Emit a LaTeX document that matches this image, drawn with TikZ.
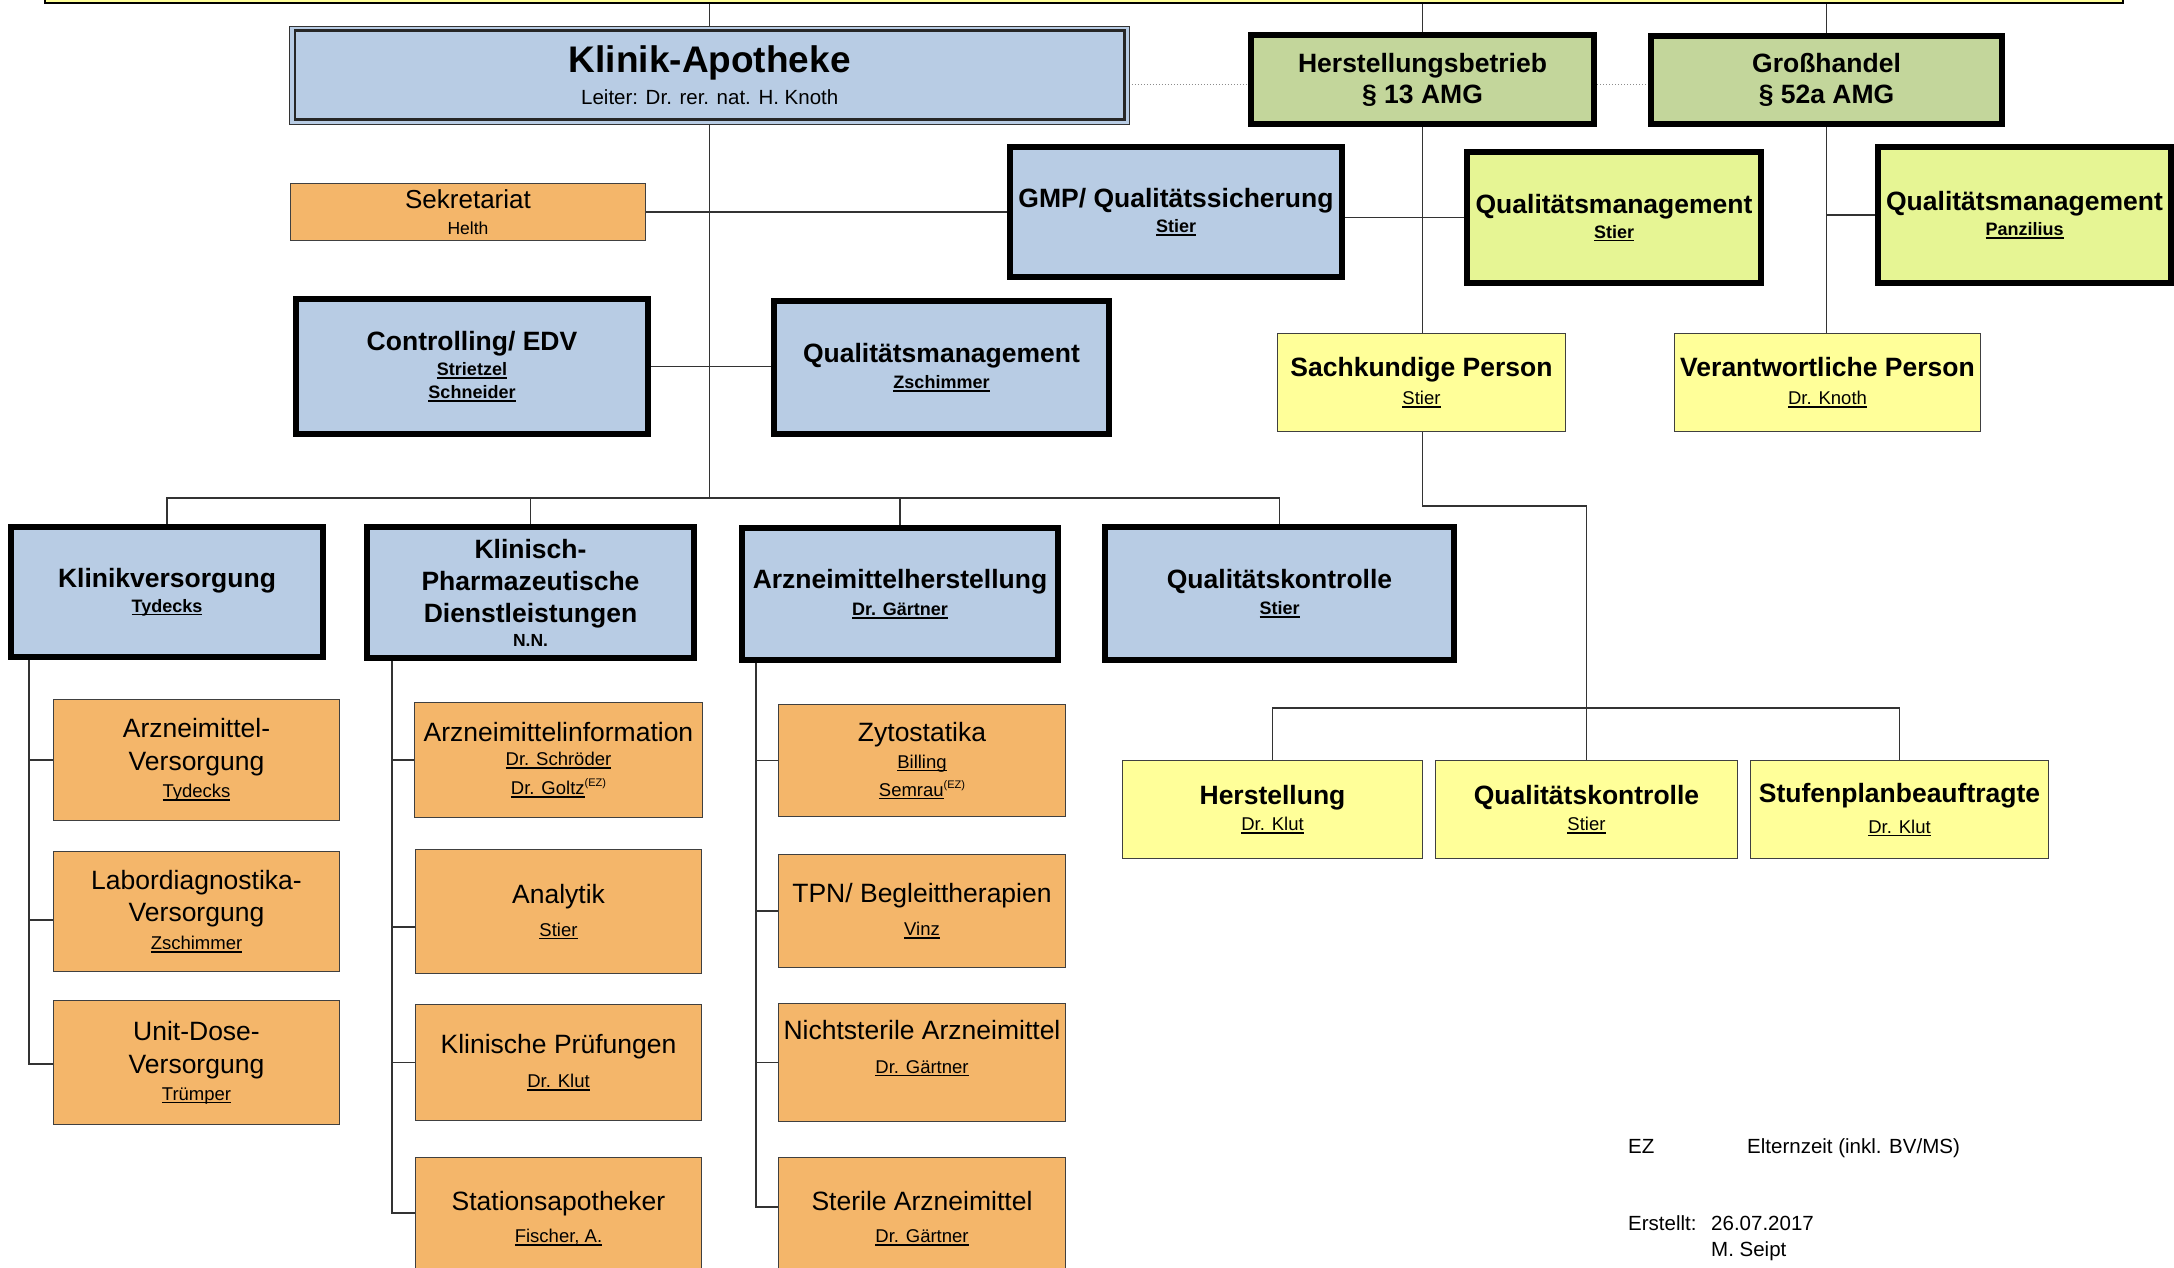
\documentclass[tikz,border=0pt]{standalone}
\usepackage{fontspec}
\setmainfont{Liberation Sans}
\usetikzlibrary{calc}
\pgfdeclarelayer{bg}
\pgfsetlayers{bg,main}
\definecolor{cblue}{HTML}{B8CCE4}
\definecolor{corange}{HTML}{F4B66A}
\definecolor{cgreen}{HTML}{C3D69B}
\definecolor{clime}{HTML}{E6F594}
\definecolor{cyell}{HTML}{FFFF99}
\newcommand\fsz[1]{\fontsize{#1}{24}\selectfont}
\newcommand\ulin[1]{\setbox0=\hbox{#1}\rlap{\rule[-3.2pt]{\wd0}{1.4pt}}\box0}
\newcommand\ezsup{\raisebox{8pt}{\fsz{11}(EZ)}}
\tikzset{
  thickbox/.style={draw=black, line width=6pt, inner sep=0pt, align=center, font=\fsz{18.5}},
  thinbox/.style={draw=black!75, line width=1.3pt, inner sep=0pt, align=center, font=\fsz{18.5}},
  conn/.style={draw=black!80, line width=1.3pt},
  dotline/.style={draw=black!45, line width=1pt, dotted},
  sz/.style 2 args={minimum width=#1pt, minimum height=#2pt},
  legend/.style={anchor=base west, inner sep=0pt, font=\fsz{20.5}},
}
\begin{document}
\begin{tikzpicture}[x=1pt,y=-1pt]
\lineskiplimit=-100pt \lineskip=0pt
\useasboundingbox (0,0) rectangle (2174,1268);
\clip (0,0) rectangle (2174,1268);

% top bar
\node[draw=black, fill=cyell, line width=2.5pt, sz={2078}{22}, inner sep=0pt] (bar) at (1084,-8) {};

% Klinik-Apotheke (double border)
\draw[fill=cblue, draw=black!80, line width=1.2pt] (289.5,26.5) rectangle (1129.5,124.5);
\node[draw=black!85, fill=cblue, line width=2.5pt, inner sep=0pt, align=center, font=\fsz{18.5}, sz={829.5}{89}] (ka) at (709.75,75)
  {{\fsz{37}\bfseries Klinik-Apotheke}\\[8pt]{\fsz{20.5}Leiter: Dr. rer. nat. H. Knoth}};

\node[thinbox, fill=corange, sz={355}{57}] (sek) at (468,212)
  {{\fsz{26}Sekretariat}\\[2pt]{\fsz{17.5}Helth}};
\node[thickbox, fill=cblue, sz={332}{130}] (gmp) at (1176,212)
  {{\fsz{26.5}\bfseries GMP/ Qualitätssicherung}\\[1pt]{\fsz{18}\bfseries\ulin{Stier}}};
\node[thickbox, fill=cblue, sz={352}{135}] (ctrl) at (472,366.5)
  {{\fsz{26.5}\bfseries Controlling/ EDV}\\[1pt]{\fsz{18}\bfseries\ulin{Strietzel}}\\[-1pt]{\fsz{18}\bfseries\ulin{Schneider}}};
\node[thickbox, fill=cblue, sz={335.5}{133}] (qmz) at (941.5,367.5)
  {{\fsz{26.5}\bfseries Qualitätsmanagement}\\[2pt]{\fsz{18}\bfseries\ulin{Zschimmer}}};

\node[thickbox, fill=cgreen, sz={343}{89}] (hb) at (1422.5,79.5)
  {{\fsz{26.5}\bfseries Herstellungsbetrieb}\\[7pt]{\fsz{26.5}\bfseries § 13 AMG}};
\node[thickbox, fill=cgreen, sz={351}{88}] (gh) at (1826.5,80)
  {{\fsz{26.5}\bfseries Großhandel}\\[7pt]{\fsz{26.5}\bfseries § 52a AMG}};
\node[thickbox, fill=clime, sz={294}{131}] (qms) at (1614,217.5)
  {{\fsz{26.5}\bfseries Qualitätsmanagement}\\[1pt]{\fsz{18}\bfseries\ulin{Stier}}};
\node[thickbox, fill=clime, sz={293}{136}] (qmp) at (2024.5,215)
  {{\fsz{26.5}\bfseries Qualitätsmanagement}\\[1pt]{\fsz{18}\bfseries\ulin{Panzilius}}};
\node[thinbox, fill=cyell, sz={288}{98}] (sp) at (1421.5,382.5)
  {{\fsz{26.5}\bfseries Sachkundige Person}\\[4pt]{\fsz{18.5}\ulin{Stier}}};
\node[thinbox, fill=cyell, sz={306}{98}] (vp) at (1827.5,382.5)
  {{\fsz{26.5}\bfseries Verantwortliche Person}\\[4pt]{\fsz{18.5}\ulin{Dr. Knoth}}};

% second level
\node[thickbox, fill=cblue, sz={312}{130}] (kv) at (167,592)
  {{\fsz{26.5}\bfseries Klinikversorgung}\\[1pt]{\fsz{18}\bfseries\ulin{Tydecks}}};
\node[thickbox, fill=cblue, sz={327}{131}] (kpd) at (530.5,592.5)
  {{\fsz{26.5}\bfseries Klinisch-}\\[8pt]{\fsz{26.5}\bfseries Pharmazeutische}\\[8pt]{\fsz{26.5}\bfseries Dienstleistungen}\\[0pt]{\fsz{17.5}\bfseries N.N.}};
\node[thickbox, fill=cblue, sz={316}{132}] (amh) at (900,594)
  {{\fsz{26.5}\bfseries Arzneimittelherstellung}\\[3pt]{\fsz{18}\bfseries\ulin{Dr. Gärtner}}};
\node[thickbox, fill=cblue, sz={349}{133}] (qk) at (1279.5,593.5)
  {{\fsz{26.5}\bfseries Qualitätskontrolle}\\[2pt]{\fsz{18}\bfseries\ulin{Stier}}};

% yellow lower right
\node[thinbox, fill=cyell, sz={300}{98}] (her) at (1272.5,809.5)
  {{\fsz{26.5}\bfseries Herstellung}\\[2pt]{\fsz{18.5}\ulin{Dr. Klut}}};
\node[thinbox, fill=cyell, sz={302}{98}] (qky) at (1586.5,809.5)
  {{\fsz{26.5}\bfseries Qualitätskontrolle}\\[2pt]{\fsz{18.5}\ulin{Stier}}};
\node[thinbox, fill=cyell, sz={298}{98}] (stu) at (1899.5,809.5)
  {{\fsz{26.5}\bfseries Stufenplanbeauftragte}\\[7pt]{\fsz{18.5}\ulin{Dr. Klut}}};

% orange column left
\node[thinbox, fill=corange, sz={286}{121}] (av) at (196.5,760)
  {{\fsz{26.5}Arzneimittel-}\\[9pt]{\fsz{26.5}Versorgung}\\[3pt]{\fsz{18.5}\ulin{Tydecks}}};
\node[thinbox, fill=corange, sz={286}{120}] (lab) at (196.5,911.5)
  {{\fsz{26.5}Labordiagnostika-}\\[8pt]{\fsz{26.5}Versorgung}\\[4pt]{\fsz{18.5}\ulin{Zschimmer}}};
\node[thinbox, fill=corange, sz={286}{124}] (ud) at (196.5,1062.5)
  {{\fsz{26.5}Unit-Dose-}\\[9pt]{\fsz{26.5}Versorgung}\\[3pt]{\fsz{18.5}\ulin{Trümper}}};

% orange column middle
\node[thinbox, fill=corange, sz={288}{115}] (ai) at (558.5,760)
  {{\fsz{26.5}Arzneimittelinformation}\\[0pt]{\fsz{18.5}\ulin{Dr. Schröder}}\\[5pt]{\fsz{18.5}\ulin{Dr. Goltz}\ezsup}};
\node[thinbox, fill=corange, sz={286}{124}] (an) at (558.5,911.5)
  {{\fsz{26.5}Analytik}\\[9pt]{\fsz{18.5}\ulin{Stier}}};
\node[thinbox, fill=corange, sz={286}{116}] (kp) at (558.5,1062.5)
  {{\fsz{26.5}Klinische Prüfungen}\\[10pt]{\fsz{18.5}\ulin{Dr. Klut}}};
\node[thinbox, fill=corange, sz={286}{122}] (sa) at (558.5,1218.5)
  {{\fsz{26.5}Stationsapotheker}\\[8pt]{\fsz{18.5}\ulin{Fischer, A.}}};

% orange column right
\node[thinbox, fill=corange, sz={287}{112}] (zy) at (922,760.5)
  {{\fsz{26.5}Zytostatika}\\[3pt]{\fsz{18.5}\ulin{Billing}}\\[4pt]{\fsz{18.5}\ulin{Semrau}\ezsup}};
\node[thinbox, fill=corange, sz={287}{113}] (tpn) at (922,911)
  {{\fsz{26.5}TPN/ Begleittherapien}\\[9pt]{\fsz{18.5}\ulin{Vinz}}};
\node[thinbox, fill=corange, sz={287}{118}, text depth=32pt] (ns) at (922,1062.5)
  {{\fsz{26.5}Nichtsterile Arzneimittel}\\[10pt]{\fsz{18.5}\ulin{Dr. Gärtner}}};
\node[thinbox, fill=corange, sz={287}{122}] (sta) at (922,1218.5)
  {{\fsz{26.5}Sterile Arzneimittel}\\[8pt]{\fsz{18.5}\ulin{Dr. Gärtner}}};

% legend
\node[legend] (ez) at (1628,1153) {EZ};
\node[legend] (ezt) at (1747,1153) {Elternzeit (inkl. BV/MS)};
\node[legend] (erst) at (1628,1230) {Erstellt:};
\node[legend] (date) at (1711,1230) {26.07.2017};
\node[legend] (auth) at (1711,1256) {M. Seipt};

% connectors
\coordinate (dl) at (0,85);
\coordinate (dist) at (0,498);
\coordinate (bend) at (0,506);
\coordinate (hz) at (0,708);
\coordinate (cL) at (29,0);
\coordinate (cM) at (392,0);
\coordinate (cR) at (756,0);
\begin{pgfonlayer}{bg}
\draw[conn] (bar.south -| ka.north) -- (ka.north);
\draw[conn] (bar.south -| hb.north) -- (hb.north);
\draw[conn] (bar.south -| gh.north) -- (gh.north);
\draw[dotline] (ka.east |- dl) -- (hb.west |- dl);
\draw[dotline] (hb.east |- dl) -- (gh.west |- dl);
\draw[conn] (ka.south) -- (ka.south |- dist);
\draw[conn] (sek.east) -- (gmp.west);
\draw[conn] (ctrl.east) -- (ctrl.east -| qmz.west);
\draw[conn] (qms.west) -- (qms.west -| gmp.east);
\draw[conn] (hb.south) -- (hb.south |- bend) -| (qky.north);
\draw[conn] (gh.south) -- (gh.south |- vp.north);
\draw[conn] (qmp.west) -- (qmp.west -| gh.south);
\draw[conn] (kv.north) -- (kv.north |- dist) -- (qk.north |- dist) -- (qk.north);
\draw[conn] (kpd.north) -- (kpd.north |- dist);
\draw[conn] (amh.north) -- (amh.north |- dist);
\draw[conn] (her.north) -- (her.north |- hz) -- (stu.north |- hz) -- (stu.north);
% left column
\draw[conn] (kv.south -| cL) -- ([yshift=-1.5pt]ud.west -| cL) -- ([yshift=-1.5pt]ud.west);
\draw[conn] (av.west -| cL) -- (av.west);
\draw[conn] ([yshift=-8.5pt]lab.west -| cL) -- ([yshift=-8.5pt]lab.west);
% middle column
\draw[conn] (kpd.south -| cM) -- ([yshift=5.5pt]sa.west -| cM) -- ([yshift=5.5pt]sa.west);
\draw[conn] (ai.west -| cM) -- (ai.west);
\draw[conn] ([yshift=-15.5pt]an.west -| cM) -- ([yshift=-15.5pt]an.west);
\draw[conn] (kp.west -| cM) -- (kp.west);
% right column
\draw[conn] (amh.south -| cR) -- ([yshift=11.5pt]sta.west -| cR) -- ([yshift=11.5pt]sta.west);
\draw[conn] (zy.west -| cR) -- (zy.west);
\draw[conn] (tpn.west -| cR) -- (tpn.west);
\draw[conn] (ns.west -| cR) -- (ns.west);
\end{pgfonlayer}
\end{tikzpicture}
\end{document}
